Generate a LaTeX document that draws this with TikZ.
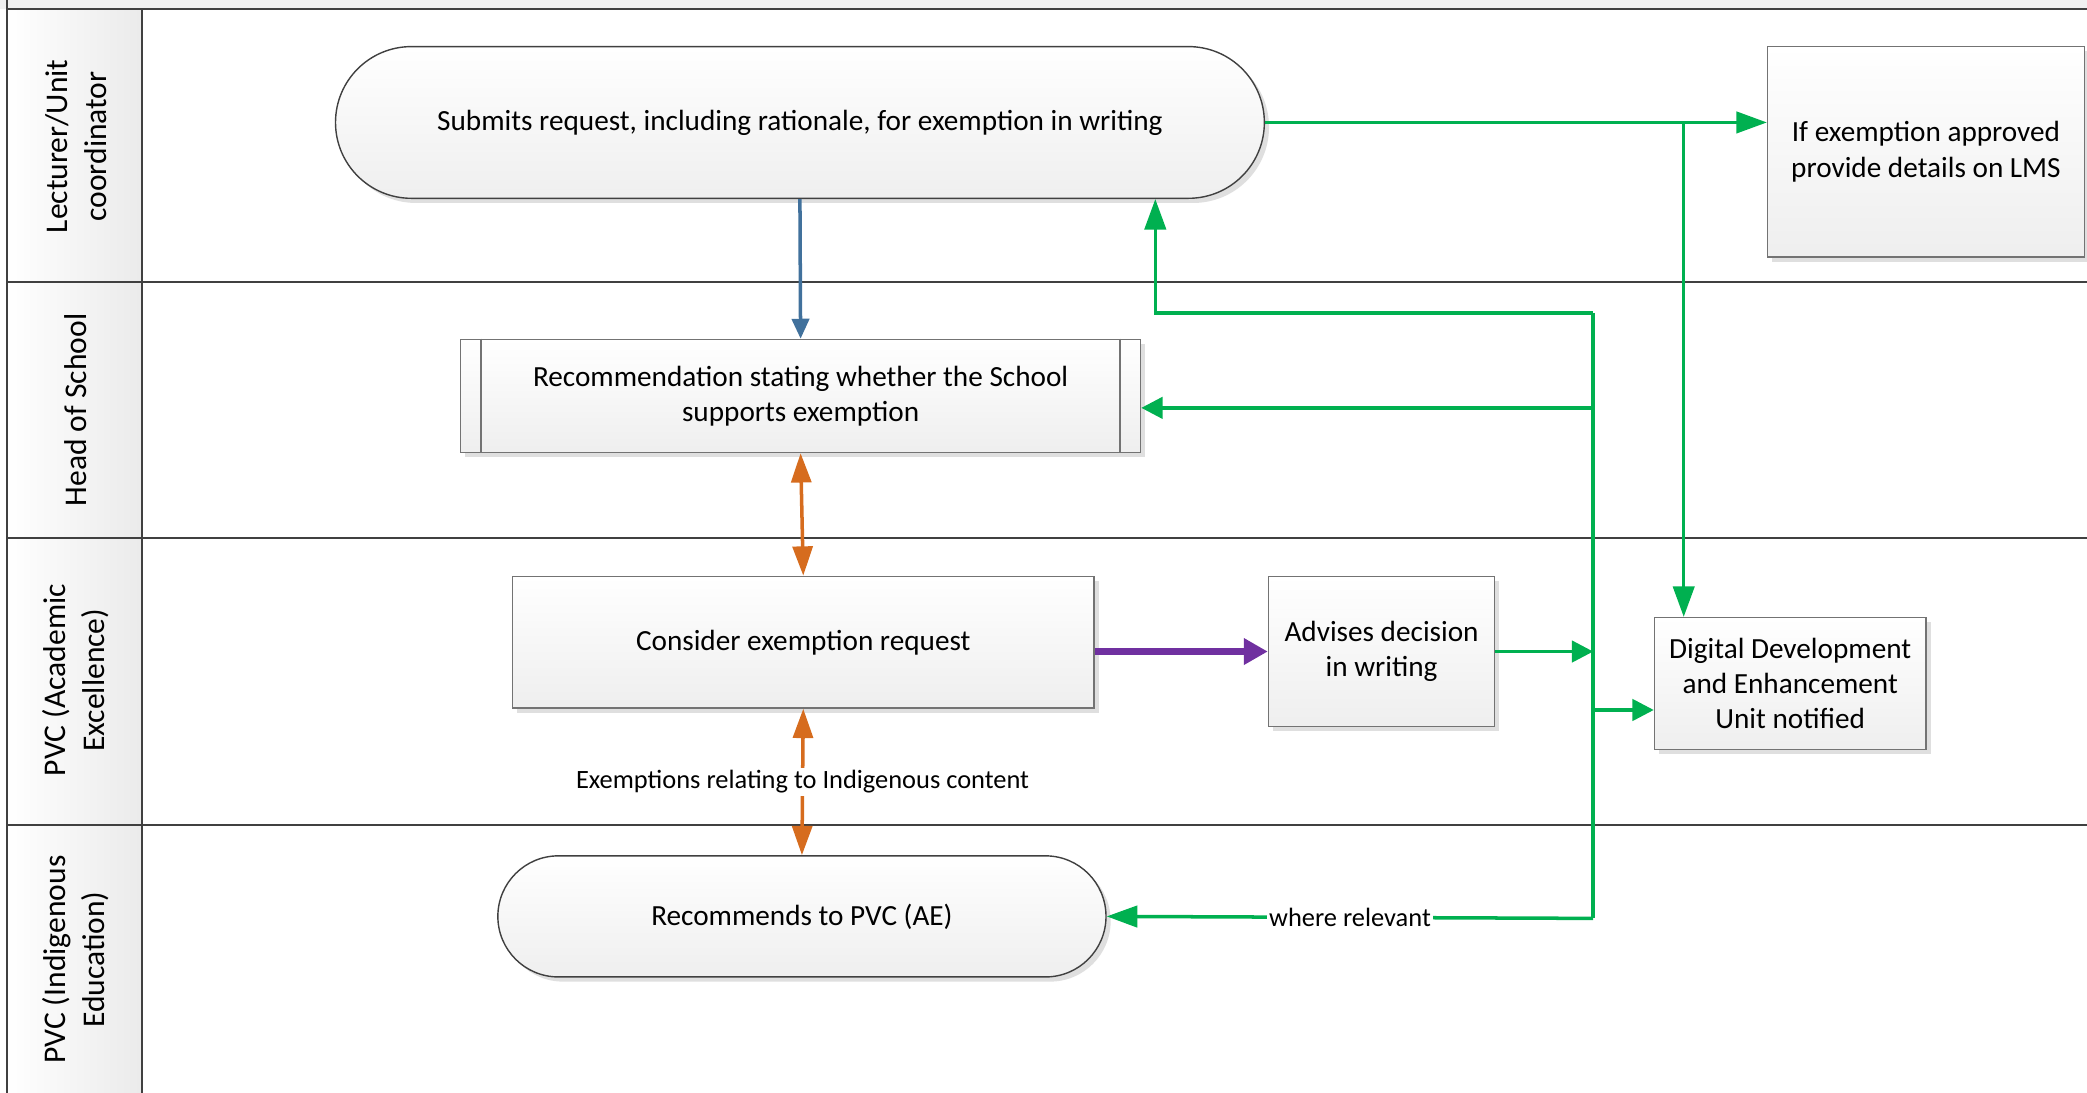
\documentclass[tikz,border=0pt]{standalone}
\usepackage{fontspec}
\setmainfont{Carlito}
\usetikzlibrary{arrows.meta,shapes.misc,shadows}

\definecolor{flowgreen}{RGB}{0,176,80}
\definecolor{flowblue}{RGB}{65,113,156}
\definecolor{floworange}{RGB}{214,108,30}
\definecolor{flowpurple}{RGB}{112,48,160}
\definecolor{laneline}{RGB}{64,64,64}

\tikzset{
  box/.style={draw=gray!90!black, line width=0.6pt, top color=white, bottom color=gray!13,
    drop shadow={shadow xshift=2pt, shadow yshift=-2pt, fill=gray!25, opacity=1},
    align=center, inner sep=0pt, font=\fontsize{12.5}{15}\selectfont},
  term/.style={box, rounded rectangle, draw=black!75},
  lanelabel/.style={rotate=90, align=center, font=\fontsize{13.5}{16.5}\selectfont},
  lane/.style={laneline, line width=0.9pt},
  smalllabel/.style={fill=white, text=black, inner sep=1pt, font=\fontsize{11.3}{13}\selectfont},
  greenline/.style={flowgreen, line width=1.5pt},
  greenarrow/.style={greenline, -{Triangle[length=0.32cm,width=0.32cm]}},
  greenlong/.style={greenline, -{Triangle[length=0.46cm,width=0.32cm]}},
  bluearrow/.style={flowblue, line width=1.5pt, -{Triangle[length=0.3cm,width=0.26cm]}},
  orangearrow/.style={floworange, line width=1.5pt, {Triangle[length=0.44cm,width=0.3cm]}-{Triangle[length=0.44cm,width=0.3cm]}},
  purplearrow/.style={flowpurple, line width=2.8pt, -{Triangle[length=0.36cm,width=0.38cm]}}
}

\begin{document}
\begin{tikzpicture}[x=0.02cm, y=-0.02cm]
\useasboundingbox (0,0) rectangle (1568,821);

\fill[gray!12] (0,0) rectangle (1568,7);
\shade[left color=white, right color=gray!16] (5,7) rectangle (107,821);
\foreach \y in {7,212,404,620}
  \draw[lane] (5,\y) -- (1568,\y);
\draw[lane] (5,0) -- (5,821);
\draw[lane] (107,7) -- (107,821);

\node[lanelabel] (lane1) at (57,110) {Lecturer/Unit\\coordinator};
\node[lanelabel] (lane2) at (57,308) {Head of School};
\node[lanelabel] (lane3) at (57,511) {PVC (Academic\\Excellence)};
\node[lanelabel] (lane4) at (57,721) {PVC (Indigenous\\Education)};

\node[term, minimum width=13.96cm, minimum height=2.28cm] (submit) at (601,92)
  {Submits request, including rationale, for exemption in writing};
\node[box, minimum width=4.76cm, minimum height=3.16cm] (ifapp) at (1447,114)
  {If exemption approved\\provide details on LMS};
\node[box, minimum width=10.22cm, minimum height=1.7cm] (hos) at (601.5,297.5)
  {Recommendation stating whether the School\\supports exemption};
\draw[gray!90!black, line width=0.6pt] ([xshift=0.32cm]hos.north west) -- ([xshift=0.32cm]hos.south west);
\draw[gray!90!black, line width=0.6pt] ([xshift=-0.32cm]hos.north east) -- ([xshift=-0.32cm]hos.south east);
\node[box, minimum width=8.74cm, minimum height=1.98cm] (cons) at (603.5,482.5)
  {Consider exemption request};
\node[box, minimum width=3.4cm, minimum height=2.26cm] (adv) at (1038,489.5)
  {Advises decision\\in writing};
\node[box, minimum width=4.08cm, minimum height=1.98cm] (ddeu) at (1345,513.5)
  {Digital Development\\and Enhancement\\Unit notified};
\node[term, minimum width=9.14cm, minimum height=1.82cm] (pvcie) at (602.5,688.5)
  {Recommends to PVC (AE)};

\coordinate (split) at (1265,92);
\coordinate (trunktop) at (1197,235);
\coordinate (trunkbot) at (1197,690);
\coordinate (backup) at (868,235);

\draw[bluearrow] (submit.south) -- (hos.north);
\draw[orangearrow] (hos.south) -- (cons.north);
\draw[orangearrow] (cons.south) -- node[smalllabel] {Exemptions relating to Indigenous content} (pvcie.north);
\draw[purplearrow] (adv.west -| cons.east) -- (adv.west);

\draw[greenlong] (submit.east) -- (submit.east -| ifapp.west);
\draw[greenlong] (split) -- (split |- ddeu.north);
\draw[greenline] (trunktop) -- (trunkbot);
\draw[greenlong] (trunktop) -- (backup) -- (backup |- submit.south);
\draw[greenarrow] (trunktop |- hos.-2.8) -- (hos.-2.8);
\draw[greenarrow] (adv.east) -- (adv.east -| trunktop);
\draw[greenarrow] (trunktop |- ddeu.191.9) -- (ddeu.191.9);
\draw[greenlong] (trunkbot) -- node[smalllabel] {where relevant} (pvcie.east);
\end{tikzpicture}
\end{document}
